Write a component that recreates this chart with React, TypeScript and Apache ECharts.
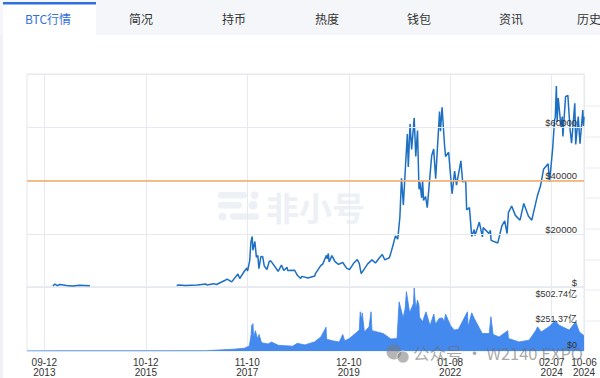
import React, { useEffect, useRef } from 'react';
import * as echarts from 'echarts';

// ---------- data ----------
const startDate = '2013-05-05';
const endDate = '2024-10-06';
const tickDates = ['2013-09-12', '2015-10-12', '2017-11-10', '2019-12-10', '2022-01-08', '2024-02-07', '2024-10-06'];

// null marks a gap in the price record
const priceDates = [
  '2013-11-15', '2013-11-30', '2013-12-18', '2014-01-06', '2014-02-25', '2014-04-10', '2014-06-03', '2014-08-19',
  '2014-08-20',
  '2016-05-30', '2016-06-17', '2016-08-02', '2016-11-01', '2017-01-04', '2017-01-11', '2017-03-03', '2017-03-24',
  '2017-05-25', '2017-06-12', '2017-07-16', '2017-09-01', '2017-09-14', '2017-10-20', '2017-11-07', '2017-11-12',
  '2017-11-28', '2017-12-07', '2017-12-17', '2017-12-22', '2018-01-06', '2018-01-17', '2018-01-28', '2018-02-05',
  '2018-02-20', '2018-03-05', '2018-03-17', '2018-04-06', '2018-04-24', '2018-05-05', '2018-06-29', '2018-07-24',
  '2018-08-10', '2018-09-04', '2018-09-08', '2018-10-31', '2018-11-20', '2018-12-15', '2018-12-24', '2019-02-07',
  '2019-03-31', '2019-04-03', '2019-05-14', '2019-05-29', '2019-06-26', '2019-07-02', '2019-07-10', '2019-07-16',
  '2019-08-06', '2019-08-29', '2019-09-24', '2019-10-26', '2019-11-25', '2019-12-17', '2020-01-14', '2020-02-12',
  '2020-02-27', '2020-03-12', '2020-04-05', '2020-04-30', '2020-06-01', '2020-06-27', '2020-07-27', '2020-08-17',
  '2020-09-05', '2020-10-09', '2020-10-21', '2020-11-05', '2020-11-24', '2020-12-11', '2020-12-27', '2021-01-08',
  '2021-01-22', '2021-02-08', '2021-02-21', '2021-02-28', '2021-03-13', '2021-03-25', '2021-04-13', '2021-04-25',
  '2021-05-08', '2021-05-19', '2021-05-26', '2021-06-08', '2021-06-15', '2021-06-22', '2021-07-07', '2021-07-20',
  '2021-08-22', '2021-09-06', '2021-09-21', '2021-10-20', '2021-10-27', '2021-11-08', '2021-11-26', '2021-12-04',
  '2021-12-27', '2022-01-22', '2022-02-10', '2022-02-24', '2022-03-29', '2022-04-11', '2022-05-04', '2022-05-11',
  '2022-06-01', '2022-06-18', '2022-07-07', '2022-07-13', '2022-08-14', '2022-09-06', '2022-09-12', '2022-10-25',
  '2022-11-05', '2022-11-10', '2022-12-30', '2023-01-30', '2023-02-20', '2023-03-10', '2023-03-20', '2023-04-13',
  '2023-05-11', '2023-06-15', '2023-07-13', '2023-08-17', '2023-09-11', '2023-10-24', '2023-11-15', '2023-12-08',
  '2024-01-11', '2024-01-22', '2024-02-14', '2024-02-28', '2024-03-05', '2024-03-13', '2024-03-19', '2024-03-27',
  '2024-04-17', '2024-04-26', '2024-05-01', '2024-05-21', '2024-06-07', '2024-06-24', '2024-07-05', '2024-07-29',
  '2024-08-05', '2024-08-24', '2024-09-06', '2024-09-27', '2024-10-02', '2024-10-06',
];
const priceValues: (number | null)[] = [
  420, 1120, 520, 950, 530, 360, 670, 500,
  null,
  530, 760, 550, 730, 1150, 780, 1260, 940,
  2450, 2950, 1930, 4900, 3150, 6000, 7150, 5950,
  9900, 16800, 19000, 13800, 17100, 11200, 11800, 6900,
  11400, 11500, 7900, 6600, 9700, 9800, 5900, 8200,
  6200, 7400, 6200, 6300, 4400, 3200, 4000, 3400,
  4100, 4900, 8000, 8600, 11900, 10600, 12600, 9400,
  11800, 9500, 8500, 9200, 7000, 6600, 8800, 10300,
  8800, 5000, 6800, 8700, 10200, 9000, 11000, 12200,
  10200, 11000, 12900, 15600, 19200, 18000, 26300, 40800,
  30800, 46400, 57500, 45100, 61200, 51700, 63500, 49000,
  58800, 36700, 39300, 33500, 40200, 32500, 34000, 29800,
  49300, 51800, 40700, 65900, 58500, 67500, 53600, 49000,
  50600, 35000, 43500, 38300, 47400, 39500, 39700, 29000,
  29800, 19000, 21600, 19300, 24400, 18800, 22300, 20100,
  21300, 17500, 16500, 23000, 24800, 20100, 28000, 30400,
  26900, 25100, 31400, 26600, 25100, 34500, 37900, 44200,
  46300, 39500, 51800, 62500, 63800, 75500, 62000, 71000,
  60000, 64000, 56500, 71500, 72000, 59000, 54000, 69000,
  53500, 64000, 53800, 66500, 60500, 64000,
];

// volume in 亿 USD
const volumeDates = [
  '2013-05-05', '2014-01-01', '2015-01-01', '2016-01-01', '2016-12-31', '2017-05-20', '2017-08-01', '2017-10-20',
  '2017-11-25', '2017-12-08', '2017-12-14', '2017-12-17', '2017-12-22', '2017-12-28', '2018-01-10', '2018-01-25',
  '2018-02-06', '2018-02-25', '2018-04-15', '2018-05-10', '2018-07-01', '2018-08-15', '2018-10-15', '2018-11-20',
  '2019-01-15', '2019-03-28', '2019-05-15', '2019-06-23', '2019-06-27', '2019-07-05', '2019-08-10', '2019-09-30',
  '2019-10-26', '2019-11-10', '2019-12-15', '2020-02-27', '2020-03-05', '2020-03-13', '2020-03-20', '2020-04-05',
  '2020-05-10', '2020-05-25', '2020-06-01', '2020-08-25', '2020-10-20', '2020-12-06', '2020-12-21', '2021-01-11',
  '2021-01-20', '2021-02-04', '2021-02-14', '2021-03-10', '2021-04-08', '2021-04-13', '2021-04-25', '2021-05-08',
  '2021-05-19', '2021-05-22', '2021-06-15', '2021-07-10', '2021-08-10', '2021-09-07', '2021-09-20', '2021-10-17',
  '2021-11-10', '2021-11-24', '2021-12-04', '2022-01-10', '2022-02-06', '2022-03-10', '2022-05-17', '2022-05-22',
  '2022-06-18', '2022-07-07', '2022-09-05', '2022-10-27', '2022-11-09', '2022-11-25', '2023-01-09', '2023-03-15',
  '2023-03-20', '2023-06-08', '2023-08-22', '2023-10-13', '2023-10-24', '2023-11-20', '2024-01-18', '2024-03-05',
  '2024-04-02', '2024-06-17', '2024-08-05', '2024-09-01', '2024-10-06',
];
const volumeValues = [
  0.5, 1, 1, 1, 2, 10, 14, 22,
  40, 120, 205, 150, 215, 110, 160, 95,
  130, 65, 55, 70, 45, 42, 38, 60,
  48, 71, 110, 187, 95, 90, 80, 71,
  130, 80, 98, 164, 308, 250, 300, 150,
  190, 308, 160, 137, 95, 98, 386, 300,
  260, 330, 466, 300, 374, 502, 330, 400,
  360, 268, 230, 308, 200, 290, 210, 256,
  260, 229, 290, 200, 164, 170, 308, 190,
  300, 256, 137, 137, 270, 130, 110, 160,
  98, 71, 85, 164, 190, 150, 190, 240,
  203, 164, 230, 150, 120,
];

const priceMax = 80000;
const priceInterval = 20000;
const volumeMax = 502.74;
const volumeInterval = 251.37;
const refLineValue = 40000;

const tabs = ['BTC行情', '简况', '持币', '热度', '钱包', '资讯', '历史'];

// ---------- helpers ----------
function buildDays(start: string, end: string): string[] {
  const out: string[] = [];
  const s = Date.parse(start + 'T00:00:00Z');
  const e = Date.parse(end + 'T00:00:00Z');
  for (let t = s; t <= e; t += 86400000) out.push(new Date(t).toISOString().slice(0, 10));
  return out;
}

const days = buildDays(startDate, endDate);
const dayIndex = new Map(days.map((d, i) => [d, i] as [string, number]));
const tickSet = new Set(tickDates);

const priceData = priceDates.map((d, i) => [dayIndex.get(d), priceValues[i] === null ? '-' : priceValues[i]]);
const volumeData = volumeDates.map((d, i) => [dayIndex.get(d), volumeValues[i]]);

const NUM_FONT = "Arial, 'Liberation Sans', 'Noto Sans CJK SC', sans-serif";
const CJK_FONT = "'Microsoft YaHei', 'Noto Sans CJK SC', sans-serif";
const GRID_COLOR = '#e6e9ef';

function buildGraphics() {
  const g: any[] = [];
  // tab bar
  g.push({ type: 'rect', shape: { x: 0, y: 0, width: 600, height: 35 }, style: { fill: '#f4f6f9' }, z: 0 });
  g.push({ type: 'rect', shape: { x: 0, y: 35, width: 3, height: 343 }, style: { fill: '#f0f2f5' }, z: 0 });
  g.push({ type: 'rect', shape: { x: 3, y: 3, width: 93, height: 32 }, style: { fill: '#ffffff' }, z: 1 });
  g.push({ type: 'rect', shape: { x: 3, y: 2, width: 93, height: 2.5 }, style: { fill: '#2f6fde' }, z: 2 });
  const tabCenters = [48, 141, 234, 327, 419, 511, 589];
  tabs.forEach((t, i) => {
    g.push({
      type: 'text', x: tabCenters[i], y: 18.5, z: 3,
      style: {
        text: t, fontSize: 12, fontFamily: CJK_FONT,
        fill: i === 0 ? '#2f6fde' : '#333333', align: 'center', verticalAlign: 'middle',
      },
    });
  });
  // watermark logo
  const wm = '#edf0f5';
  g.push({ type: 'rect', shape: { x: 218, y: 192, width: 29, height: 6.5, r: 3.2 }, style: { fill: wm }, z: 0 });
  g.push({ type: 'circle', shape: { cx: 254.5, cy: 195.2, r: 4 }, style: { fill: wm }, z: 0 });
  g.push({ type: 'rect', shape: { x: 218, y: 202, width: 24, height: 6.5, r: 3.2 }, style: { fill: wm }, z: 0 });
  g.push({ type: 'circle', shape: { cx: 253, cy: 205.2, r: 4.5 }, style: { fill: wm }, z: 0 });
  g.push({ type: 'circle', shape: { cx: 222.5, cy: 216.5, r: 4 }, style: { fill: wm }, z: 0 });
  g.push({ type: 'rect', shape: { x: 230, y: 213.2, width: 29, height: 6.5, r: 3.2 }, style: { fill: wm }, z: 0 });
  g.push({
    type: 'text', x: 266, y: 207, z: 0,
    style: { text: '非小号', fontSize: 33, fontWeight: 'bold', fontFamily: CJK_FONT, fill: wm, verticalAlign: 'middle' },
  });
  // right-edge faint lines
  [106, 137, 168, 198, 229, 260, 290, 321].forEach((y) => {
    g.push({ type: 'line', shape: { x1: 585, y1: y, x2: 600, y2: y }, style: { stroke: '#e8ebf0', lineWidth: 1 }, z: 0 });
  });
  // bottom watermark
  g.push({ type: 'circle', shape: { cx: 394, cy: 352, r: 7.5 }, style: { fill: 'rgba(120,120,120,0.55)' }, z: 20 });
  g.push({ type: 'circle', shape: { cx: 403, cy: 357, r: 6 }, style: { fill: 'rgba(120,120,120,0.55)', stroke: 'rgba(255,255,255,0.6)', lineWidth: 1 }, z: 20 });
  g.push({
    type: 'text', x: 413, y: 353, z: 20,
    style: {
      text: '公众号 · W2140 EXPO', fontSize: 16.5, fontFamily: CJK_FONT,
      fill: 'rgba(110,110,110,0.6)', verticalAlign: 'middle',
    },
  });
  return g;
}

const xLabelFormatter = (v: string) => `${v.slice(5)}\n${v.slice(0, 4)}`;
const tickFn = (_i: number, v: string) => tickSet.has(v);

const option: any = {
  animation: false,
  backgroundColor: '#ffffff',
  graphic: buildGraphics(),
  grid: [
    { left: 27, right: 16, top: 74, height: 213, show: true, borderColor: '#e3e6ec', borderWidth: 1, backgroundColor: 'transparent' },
    { left: 27, right: 16, top: 287, height: 64, show: true, borderColor: '#e3e6ec', borderWidth: 1, backgroundColor: 'transparent' },
  ],
  xAxis: [
    {
      type: 'category', gridIndex: 0, data: days, boundaryGap: false,
      axisLine: { show: false }, axisTick: { show: false }, axisLabel: { show: false },
      splitLine: { show: true, interval: tickFn, lineStyle: { color: GRID_COLOR, width: 1 } },
    },
    {
      type: 'category', gridIndex: 1, data: days, boundaryGap: false,
      axisLine: { show: false }, axisTick: { show: false },
      axisLabel: {
        show: true, interval: tickFn, formatter: xLabelFormatter,
        fontSize: 10, lineHeight: 10.5, color: '#333333', fontFamily: NUM_FONT, margin: 6,
      },
      splitLine: { show: true, interval: tickFn, lineStyle: { color: GRID_COLOR, width: 1 } },
    },
  ],
  yAxis: [
    {
      type: 'value', gridIndex: 0, position: 'right', min: 0, max: priceMax, interval: priceInterval,
      axisLine: { show: false }, axisTick: { show: false },
      axisLabel: {
        inside: true, margin: 7, showMaxLabel: false, verticalAlign: 'bottom',
        fontSize: 9.5, color: '#333333', fontFamily: NUM_FONT,
        formatter: (v: number) => '$' + (v === 0 ? '' : String(v)),
      },
      splitLine: { show: true, lineStyle: { color: GRID_COLOR, width: 1 } },
      z: 5,
    },
    {
      type: 'value', gridIndex: 1, position: 'right', min: 0, max: volumeMax, interval: volumeInterval,
      axisLine: { show: false }, axisTick: { show: false },
      axisLabel: {
        inside: true, margin: 7, fontSize: 9, color: '#333333', fontFamily: NUM_FONT,
        formatter: (v: number) => {
          if (v === 0) return '{b|$0}';
          if (Math.abs(v - volumeMax) < 0.01) return `{t|$${v.toFixed(2)}亿}`;
          return `{m|$${v.toFixed(2)}亿}`;
        },
        rich: {
          t: { fontSize: 9, color: '#333333', fontFamily: NUM_FONT, padding: [13, 0, 0, 0] },
          m: { fontSize: 9, color: '#333333', fontFamily: NUM_FONT },
          b: { fontSize: 9, color: '#333333', fontFamily: NUM_FONT, padding: [0, 0, 13, 0] },
        },
      },
      splitLine: { show: false },
      z: 5,
    },
  ],
  series: [
    {
      name: 'price', type: 'line', xAxisIndex: 0, yAxisIndex: 0, data: priceData,
      showSymbol: false, symbol: 'none', smooth: false, connectNulls: false,
      lineStyle: { color: '#1c6fc2', width: 1.5 },
      z: 3,
      markLine: {
        silent: true, symbol: ['none', 'none'], label: { show: false },
        lineStyle: { color: '#f2a966', width: 1.5, type: 'solid' },
        data: [{ yAxis: refLineValue }],
      },
    },
    {
      name: 'volume', type: 'line', xAxisIndex: 1, yAxisIndex: 1, data: volumeData,
      showSymbol: false, symbol: 'none', smooth: false,
      lineStyle: { color: '#3f87ee', width: 0.8 },
      areaStyle: { color: '#4389ee', opacity: 1 },
      z: 3,
    },
  ],
};

export default function App() {
  const ref = useRef<HTMLDivElement>(null);
  useEffect(() => {
    if (!ref.current) return;
    const chart = echarts.init(ref.current, null, { renderer: 'svg' });
    chart.setOption(option);
    return () => chart.dispose();
  }, []);
  return <div ref={ref} style={{ position: 'absolute', left: 0, top: 0, width: 600, height: 378 }} />;
}
